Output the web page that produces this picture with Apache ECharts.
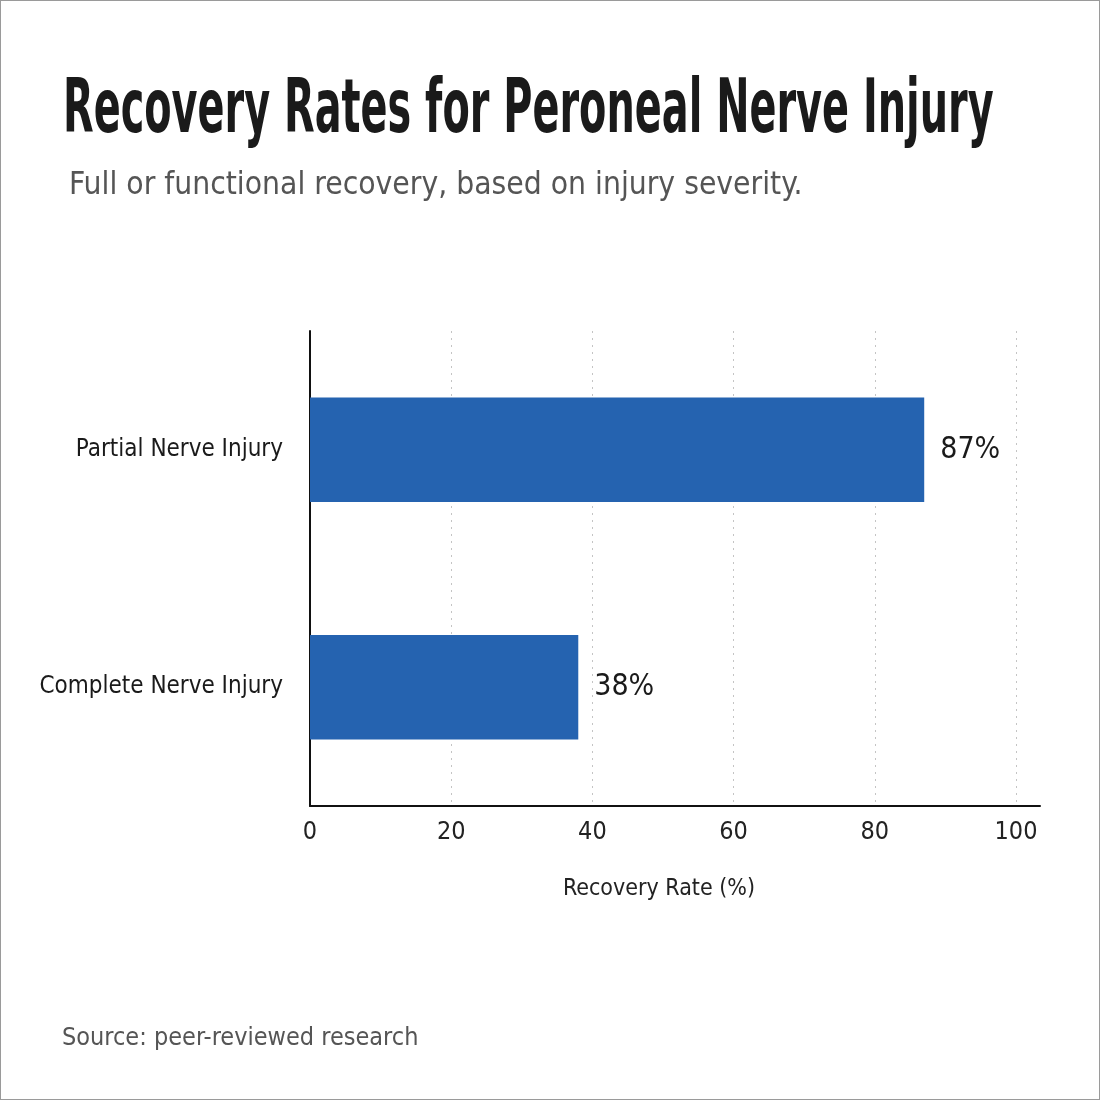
<!DOCTYPE html>
<html>
<head>
<meta charset="utf-8">
<title>Recovery Rates for Peroneal Nerve Injury</title>
<script src="https://cdn.jsdelivr.net/npm/echarts@6/dist/echarts.min.js"></script>
<style>
    html, body { margin: 0; padding: 0; background: #fff; }
    #main { width: 1100px; height: 1100px; box-sizing: border-box; border: 1px solid #9a9a9a; }
</style>
</head>
<body>
<div id="main"></div>
<script>
// 数据开始
var categories = ['Complete Nerve Injury', 'Partial Nerve Injury'];
var recoveryRates = [38, 87];
var tickValues = [0, 20, 40, 60, 80, 100];
// 数据结束

var fontName = '"DejaVu Sans Condensed", "Liberation Sans Narrow", sans-serif';

var myChart = echarts.init(document.getElementById('main'));

var option = {
    backgroundColor: '#ffffff',
    graphic: [{
        // 标题（横向压缩，模拟窄体字）
        type: 'text',
        left: 62,
        top: 74,
        scaleX: 0.59,
        style: {
            text: 'Recovery Rates for Peroneal Nerve Injury',
            fontFamily: fontName,
            fontWeight: 'bold',
            fontSize: 75,
            fill: '#1a1a1a'
        }
    }],
    title: [{
        text: 'Full or functional recovery, based on injury severity.',
        left: 63,
        top: 164,
        textStyle: {
            fontFamily: fontName,
            fontWeight: 'normal',
            fontSize: 31.5,
            color: '#555555'
        }
    }, {
        text: 'Source: peer-reviewed research',
        left: 56,
        top: 1020,
        textStyle: {
            fontFamily: fontName,
            fontWeight: 'normal',
            fontSize: 25,
            color: '#555555'
        }
    }],
    grid: {
        left: 309,
        right: 59,
        top: 330,
        bottom: 293,
        containLabel: false
    },
    xAxis: {
        type: 'value',
        min: 0,
        max: 103.4,
        interval: 20,
        name: 'Recovery Rate (%)',
        nameLocation: 'middle',
        nameGap: 72,
        nameTextStyle: {
            fontFamily: fontName,
            fontSize: 23,
            color: '#222222',
            padding: [0, 32, 0, 0]
        },
        axisLine: {
            show: true,
            lineStyle: { color: '#111111', width: 2 }
        },
        axisTick: { show: false },
        axisLabel: {
            margin: 14,
            fontFamily: fontName,
            fontSize: 25,
            color: '#222222',
            formatter: function(v) {
                return tickValues.indexOf(v) >= 0 ? String(v) : '';
            }
        },
        splitLine: {
            show: true,
            showMinLine: false,
            showMaxLine: false,
            lineStyle: { color: '#c4c4c4', type: [2, 5], width: 1 }
        }
    },
    yAxis: {
        type: 'category',
        data: categories,
        axisLine: {
            show: true,
            lineStyle: { color: '#111111', width: 2 }
        },
        axisTick: { show: false },
        axisLabel: {
            margin: 27,
            fontFamily: fontName,
            fontSize: 24,
            color: '#1a1a1a'
        },
        splitLine: { show: false }
    },
    series: [{
        type: 'bar',
        data: recoveryRates,
        barWidth: '44%',
        itemStyle: { color: '#2563b0' },
        label: {
            show: true,
            position: 'right',
            distance: 16,
            fontFamily: fontName,
            fontSize: 30,
            color: '#1a1a1a',
            formatter: '{c}%'
        }
    }]
};

myChart.setOption(option);
</script>
</body>
</html>
